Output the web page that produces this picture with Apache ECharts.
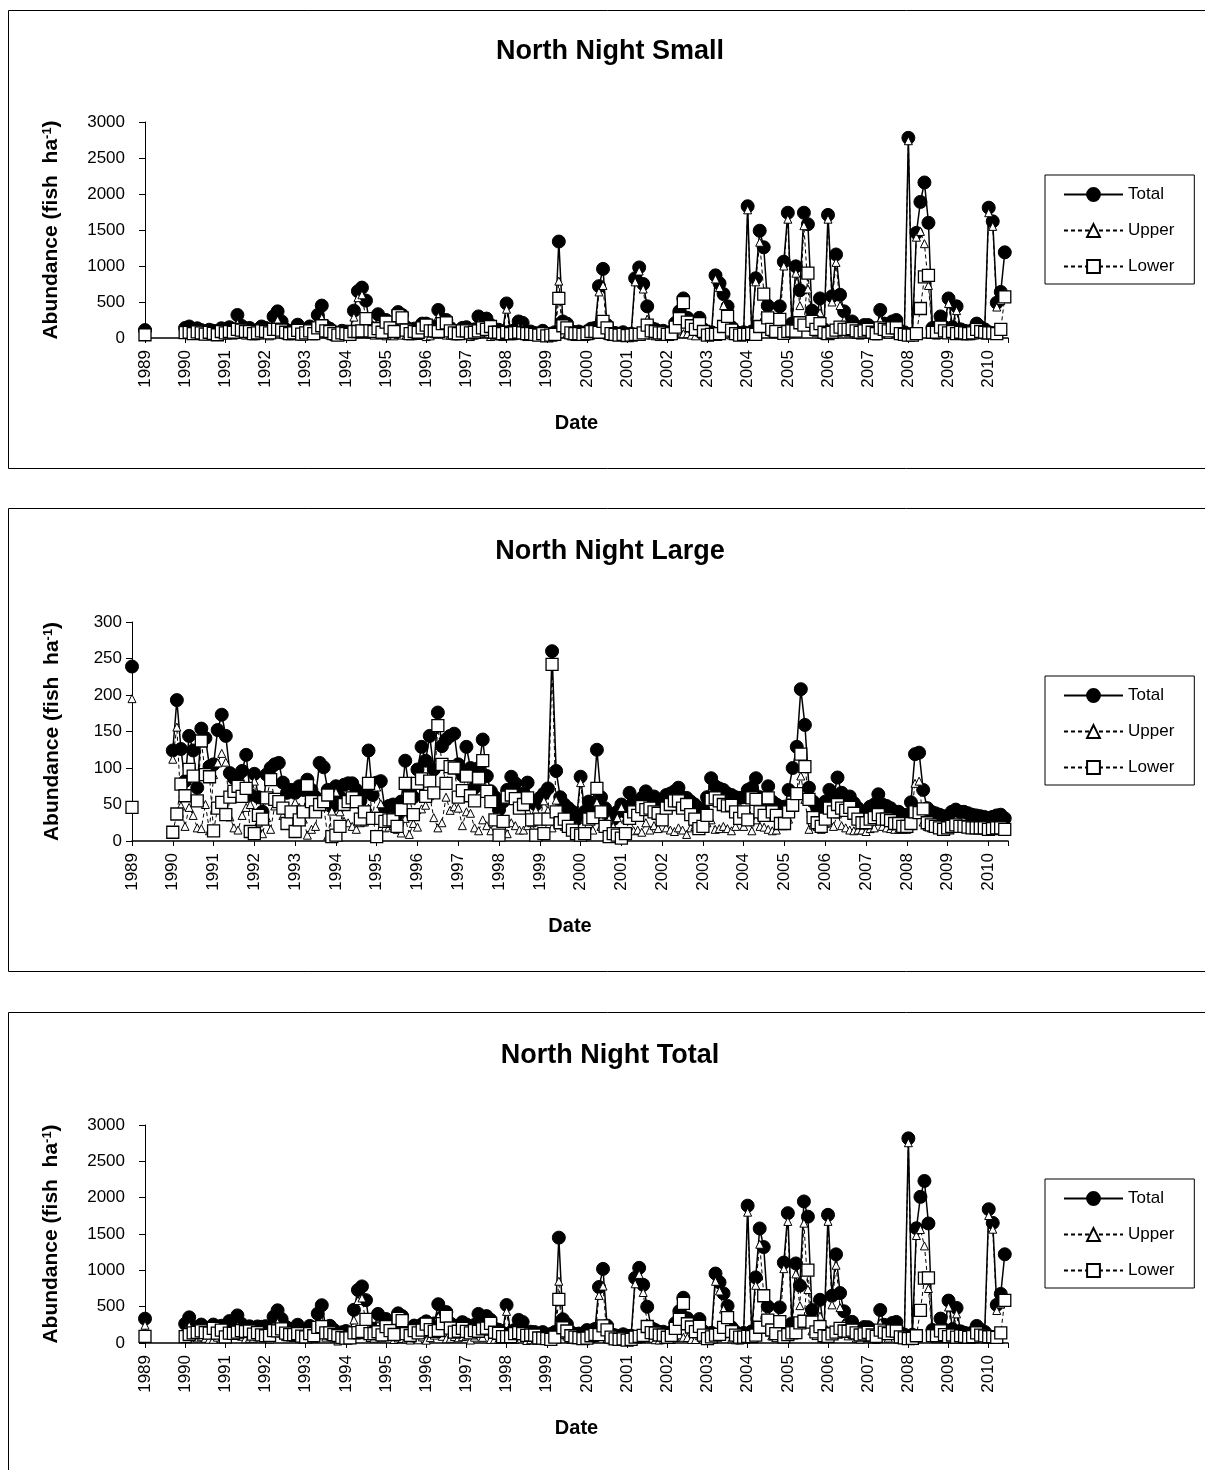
<!DOCTYPE html>
<html><head><meta charset="utf-8">
<script src="https://cdn.jsdelivr.net/npm/echarts@6/dist/echarts.min.js"></script>
<style>html,body{margin:0;padding:0;background:#fff}#c{width:1205px;height:1470px}</style>
</head><body><div id="c"></div>
<script>
// ---------- DATA ----------
const panelTitles = ['North Night Small', 'North Night Large', 'North Night Total'];
const seriesNames = ['Total', 'Upper', 'Lower'];
const yearLabels = [1989,1990,1991,1992,1993,1994,1995,1996,1997,1998,1999,2000,2001,2002,2003,2004,2005,2006,2007,2008,2009,2010];
const yTicksSmall = [0,500,1000,1500,2000,2500,3000];
const yTicksLarge = [0,50,100,150,200,250,300];
const yTicksTotal = [0,500,1000,1500,2000,2500,3000];

// sampling dates (decimal years); 1989.5 = no sampling (gap)
const dates = [1989,1989.5,
1990,1990.1,1990.2,1990.3,1990.4,1990.5,1990.6,1990.7,1990.8,1990.9,
1991,1991.1,1991.2,1991.3,1991.4,1991.5,1991.6,1991.7,1991.8,1991.9,
1992,1992.1,1992.2,1992.3,1992.4,1992.5,1992.6,1992.7,1992.8,1992.9,
1993,1993.1,1993.2,1993.3,1993.4,1993.5,1993.6,1993.7,1993.8,1993.9,
1994,1994.1,1994.2,1994.3,1994.4,1994.5,1994.6,1994.7,1994.8,1994.9,
1995,1995.1,1995.2,1995.3,1995.4,1995.5,1995.6,1995.7,1995.8,1995.9,
1996,1996.1,1996.2,1996.3,1996.4,1996.5,1996.6,1996.7,1996.8,1996.9,
1997,1997.1,1997.2,1997.3,1997.4,1997.5,1997.6,1997.7,1997.8,1997.9,
1998,1998.1,1998.2,1998.3,1998.4,1998.5,1998.6,1998.7,1998.8,1998.9,
1999,1999.1,1999.2,1999.3,1999.4,1999.5,1999.6,1999.7,1999.8,1999.9,
2000,2000.1,2000.2,2000.3,2000.4,2000.5,2000.6,2000.7,2000.8,2000.9,
2001,2001.1,2001.2,2001.3,2001.4,2001.5,2001.6,2001.7,2001.8,2001.9,
2002,2002.1,2002.2,2002.3,2002.4,2002.5,2002.6,2002.7,2002.8,2002.9,
2003,2003.1,2003.2,2003.3,2003.4,2003.5,2003.6,2003.7,2003.8,2003.9,
2004,2004.1,2004.2,2004.3,2004.4,2004.5,2004.6,2004.7,2004.8,2004.9,
2005,2005.1,2005.2,2005.3,2005.4,2005.5,2005.6,2005.7,2005.8,2005.9,
2006,2006.1,2006.2,2006.3,2006.4,2006.5,2006.6,2006.7,2006.8,2006.9,
2007,2007.1,2007.2,2007.3,2007.4,2007.5,2007.6,2007.7,2007.8,2007.9,
2008,2008.1,2008.2,2008.3,2008.4,2008.5,2008.6,2008.7,2008.8,2008.9,
2009,2009.1,2009.2,2009.3,2009.4,2009.5,2009.6,2009.7,2009.8,2009.9,
2010,2010.1,2010.2,2010.3,2010.4];

// North Night Small
const smallTotal = [110,null,
140,160,95,135,110,85,115,100,75,135,
110,150,120,320,170,130,140,90,110,160,
140,100,300,370,230,120,90,110,185,80,
110,160,90,320,450,160,130,80,60,100,
90,70,380,650,700,520,150,130,330,120,
250,180,120,360,320,150,90,130,115,200,
200,130,160,390,260,250,140,100,90,140,
150,90,120,300,200,270,180,110,115,80,
480,90,110,230,210,80,90,70,60,100,
45,60,80,1340,230,200,100,80,90,70,
90,130,140,720,960,180,80,70,60,80,
50,60,830,980,750,440,140,120,90,100,
70,90,210,370,550,280,210,150,280,120,
60,80,870,760,610,440,150,90,60,80,
1830,90,830,1490,1260,450,200,150,440,1060,
1740,200,995,662,1740,1580,380,200,550,120,
1710,580,1160,600,370,200,230,150,120,180,
180,120,90,390,200,150,230,250,100,80,
2780,60,1460,1890,2160,1600,140,120,300,150,
550,150,440,120,100,90,110,200,150,120,
1810,1620,490,640,1190];
const smallUpper = [65,null,
65,80,35,50,40,30,35,35,30,45,
40,60,40,200,60,40,50,30,40,60,
50,30,180,250,120,40,30,40,80,25,
40,60,30,180,280,60,40,20,20,30,
30,20,290,560,600,250,50,40,200,40,
30,40,30,50,40,40,30,40,35,60,
20,30,60,300,60,40,40,30,30,40,
50,20,40,200,60,150,20,30,35,20,
400,30,40,150,140,20,30,20,20,40,
15,20,30,790,60,60,30,20,30,20,
30,40,50,640,730,40,20,20,20,30,
15,20,780,930,680,260,40,30,20,30,
20,30,60,100,60,60,40,30,80,30,
20,30,820,700,450,140,40,30,20,30,
1780,30,780,1330,650,170,80,60,180,1000,
1650,100,900,450,1560,680,150,80,350,40,
1650,500,1050,450,250,80,100,50,40,80,
60,40,30,250,80,50,90,110,40,30,
2740,20,1400,1480,1310,730,60,40,150,50,
480,60,380,40,30,30,40,80,60,40,
1740,1550,430,520,620];
const smallLower = [45,null,
75,80,60,85,70,55,80,65,45,90,
70,90,80,120,110,90,90,60,70,100,
90,70,120,120,110,80,60,70,105,55,
70,100,60,140,170,100,90,60,40,70,
60,50,90,90,100,270,100,90,130,80,
220,140,90,310,280,110,60,90,80,140,
180,100,100,90,200,210,100,70,60,100,
100,70,80,100,140,120,160,80,80,60,
80,60,70,80,70,60,60,50,40,60,
30,40,50,550,170,140,70,60,60,50,
60,90,90,80,230,140,60,50,40,50,
35,40,50,50,70,180,100,90,70,70,
50,60,150,270,490,220,170,120,200,90,
40,50,50,60,160,300,110,60,40,50,
50,60,50,160,610,280,120,90,260,65,
90,100,95,212,180,900,230,120,200,80,
60,80,110,150,120,120,130,100,80,100,
120,80,60,140,120,100,140,140,60,50,
40,40,60,410,850,870,80,80,150,100,
70,90,60,80,70,60,70,120,90,80,
70,70,60,120,570];

// North Night Large
const largeTotal = [239,null,
124,193,126,82,144,124,73,154,141,102,
105,152,173,144,93,86,90,96,118,63,
92,60,40,91,100,105,107,80,66,70,
66,75,70,84,70,60,107,101,70,47,
75,60,77,79,79,70,55,66,124,63,
80,82,45,48,50,36,54,110,68,60,
98,129,110,144,98,176,130,139,144,147,
105,90,129,100,73,100,139,89,68,60,
43,54,70,88,79,60,65,80,54,50,
59,65,72,260,96,60,50,45,40,30,
88,40,54,47,125,60,45,36,30,40,
50,40,66,54,50,59,68,60,61,55,
57,63,65,68,73,60,59,54,50,40,
45,60,86,75,72,70,65,63,60,59,
60,70,73,86,60,54,75,54,50,47,
47,70,100,129,208,159,73,54,45,36,
54,70,60,87,66,60,61,52,45,40,
38,47,50,64,50,48,45,40,40,36,
36,53,119,121,70,45,40,38,36,34,
34,40,43,40,40,38,36,35,34,33,
31,33,35,36,31];
const largeUpper = [195,null,
112,156,48,20,46,35,18,17,50,14,
91,107,120,108,33,18,15,35,46,50,
82,25,10,32,16,48,53,35,42,30,
53,46,30,8,16,20,57,47,7,41,
67,40,27,25,20,16,25,26,45,32,
74,51,18,19,21,16,11,31,9,24,
19,44,49,62,32,18,25,60,42,47,
45,21,40,38,18,14,29,21,14,31,
35,27,10,25,21,15,15,21,25,42,
29,55,42,18,56,35,20,25,25,20,
80,30,24,15,53,20,25,30,20,32,
46,30,35,14,15,12,25,15,21,17,
28,18,15,13,18,15,9,18,20,23,
25,25,29,16,17,20,17,14,20,28,
20,41,14,29,20,19,16,14,15,23,
23,30,51,64,89,57,16,22,20,16,
24,25,20,37,21,18,15,14,15,15,
13,17,18,28,20,18,17,16,16,16,
16,29,79,82,26,20,18,18,18,18,
16,20,21,20,20,19,18,17,16,15,
15,16,17,18,15];
const largeLower = [46,null,
12,37,78,62,98,89,55,137,91,88,
14,45,53,36,60,68,75,61,72,13,
10,35,30,59,84,57,54,45,24,40,
13,29,40,76,54,40,50,54,63,6,
8,20,50,54,59,54,30,40,79,31,
6,31,27,29,29,20,43,79,59,36,
79,85,61,82,66,158,105,79,102,100,
60,69,89,62,55,86,110,68,54,29,
8,27,60,63,58,45,50,59,29,8,
30,10,30,242,40,25,30,20,15,10,
8,10,30,32,72,40,20,6,10,8,
4,10,31,40,35,47,43,45,40,38,
29,45,50,55,55,45,50,36,30,17,
20,35,57,59,55,50,48,49,40,31,
40,29,59,57,40,35,59,40,35,24,
24,40,49,65,119,102,57,32,25,20,
30,45,40,50,45,42,46,38,30,25,
25,30,32,36,30,30,28,24,24,20,
20,24,40,39,44,25,22,20,18,16,
18,20,22,20,20,19,18,18,18,18,
16,17,18,18,16];

// North Night Total
const allTotal = [335,null,
264,353,221,217,254,209,188,254,216,237,
215,302,293,380,263,216,230,186,228,223,
232,160,360,450,330,225,197,190,251,150,
176,235,160,404,520,220,237,181,130,147,
165,130,457,729,779,590,205,196,400,183,
330,262,165,408,370,186,144,240,183,260,
298,259,270,534,358,426,270,239,234,287,
255,180,249,400,273,370,319,199,183,140,
523,144,180,318,289,140,155,150,114,150,
104,125,152,1450,326,260,150,125,130,100,
178,170,194,770,1020,240,125,106,90,120,
100,100,896,1034,800,499,208,180,151,155,
127,153,275,438,623,340,269,204,330,160,
105,140,956,835,682,510,215,153,120,139,
1890,160,903,1576,1320,504,275,204,490,1107,
1787,270,1095,791,1948,1739,453,254,595,156,
1764,650,1220,687,436,260,291,202,165,220,
218,167,140,454,250,198,275,290,140,116,
2816,113,1579,2011,2230,1645,180,158,336,184,
584,190,483,160,140,128,146,235,184,153,
1841,1653,525,676,1221];
const allUpper = [245,null,
177,236,83,70,86,65,53,52,80,59,
131,167,160,230,93,58,65,65,86,110,
132,55,190,282,136,88,83,75,122,55,
93,106,60,188,296,80,97,67,27,71,
97,60,317,585,620,266,75,66,245,72,
104,91,48,69,61,56,41,71,44,84,
39,74,109,362,92,58,65,90,72,87,
95,41,80,238,78,164,49,51,49,51,
435,57,50,175,161,35,45,41,45,82,
44,75,72,850,116,95,50,45,55,40,
110,70,74,655,783,60,45,50,40,62,
61,50,815,944,695,272,65,45,41,47,
48,48,75,113,78,75,49,48,100,53,
45,55,849,716,467,160,57,44,40,58,
1800,71,794,1359,670,189,96,74,195,1023,
1673,130,951,514,1649,737,166,102,370,56,
1674,525,1070,487,271,98,115,64,55,95,
73,57,48,278,100,68,107,126,56,46,
2756,49,1479,1562,1336,750,78,58,168,68,
496,80,401,60,50,49,58,97,76,55,
1755,1566,447,538,635];
const allLower = [90,null,
87,117,138,147,168,144,135,202,136,178,
84,135,133,150,170,158,165,121,142,113,
100,105,170,168,194,137,114,115,129,95,
83,129,100,216,224,140,140,114,103,76,
68,70,140,144,159,324,130,130,155,111,
226,171,117,339,309,130,103,169,139,176,
259,185,161,172,266,368,205,149,162,200,
160,139,169,162,195,206,270,148,134,89,
88,87,130,143,128,105,110,109,69,68,
60,50,80,600,210,165,100,80,75,60,
68,100,120,115,237,180,80,56,50,58,
39,50,81,90,105,227,143,135,110,108,
79,105,200,325,545,265,220,156,230,107,
60,85,107,119,215,350,158,109,80,81,
90,89,109,217,650,315,179,130,295,84,
114,140,144,277,299,1002,287,152,225,100,
90,125,150,200,165,162,176,138,110,125,
145,110,92,176,150,130,168,164,84,70,
60,64,100,449,894,895,102,100,168,116,
88,110,82,100,90,79,88,138,108,98,
86,87,78,138,586];

// ---------- CHART ----------
const FONT = 'Liberation Sans';
const panels = [
  {title: panelTitles[0], ticks: yTicksSmall, vals: [smallTotal, smallUpper, smallLower],
   grid: {left: 145, top: 122, width: 863, height: 216}, labelMargin: 20, nameGap: 83, titleTop: 33, legendTop: 175, box: [8.5, 10.5, 458]},
  {title: panelTitles[1], ticks: yTicksLarge, vals: [largeTotal, largeUpper, largeLower],
   grid: {left: 132, top: 622, width: 876, height: 219}, labelMargin: 10, nameGap: 69, titleTop: 533, legendTop: 676, box: [8.5, 508.5, 463]},
  {title: panelTitles[2], ticks: yTicksTotal, vals: [allTotal, allUpper, allLower],
   grid: {left: 145, top: 1125, width: 863, height: 218}, labelMargin: 20, nameGap: 83, titleTop: 1037, legendTop: 1179, box: [8.5, 1012.5, 520]}
];

const styles = [
  {symbol: 'circle', symbolSize: 13, itemStyle: {color: '#000', borderColor: '#000', borderWidth: 1}, lineStyle: {color: '#000', width: 1.5, type: 'solid'}},
  {symbol: 'triangle', symbolSize: 8, itemStyle: {color: '#fff', borderColor: '#000', borderWidth: 1}, lineStyle: {color: '#000', width: 1, type: [4, 3]}},
  {symbol: 'rect', symbolSize: 12, itemStyle: {color: '#fff', borderColor: '#000', borderWidth: 1.3}, lineStyle: {color: '#000', width: 1, type: [4, 3]}}
];

const grids = [], xAxes = [], yAxes = [], series = [], titles = [], legends = [], graphics = [];
panels.forEach((p, gi) => {
  grids.push(Object.assign({containLabel: false}, p.grid));
  xAxes.push({
    gridIndex: gi, type: 'value', min: yearLabels[0], max: 2010.48, interval: 1,
    axisLine: {onZero: false, lineStyle: {color: '#000', width: 1.5}},
    axisTick: {show: true, length: 5, lineStyle: {color: '#000', width: 1}},
    axisLabel: {rotate: 90, fontSize: 17, color: '#000', fontFamily: FONT, margin: 12,
      formatter: v => yearLabels.indexOf(v) >= 0 ? String(v) : ''},
    splitLine: {show: false},
    name: 'Date', nameLocation: 'middle', nameGap: 75,
    nameTextStyle: {fontSize: 20, fontWeight: 'bold', color: '#000', fontFamily: FONT}
  });
  yAxes.push({
    gridIndex: gi, type: 'value', min: p.ticks[0], max: p.ticks[p.ticks.length - 1], interval: p.ticks[1] - p.ticks[0],
    axisLine: {show: true, lineStyle: {color: '#000', width: 1}},
    axisTick: {show: true, length: 6, lineStyle: {color: '#000', width: 1}},
    axisLabel: {fontSize: 17, color: '#000', fontFamily: FONT, margin: p.labelMargin, formatter: v => String(v)},
    splitLine: {show: false},
    name: 'Abundance (fish  ha{sup|-1})', nameLocation: 'middle', nameGap: p.nameGap, nameRotate: 90,
    nameTextStyle: {fontSize: 21, fontWeight: 'bold', color: '#000', fontFamily: FONT,
      rich: {sup: {fontSize: 13, fontWeight: 'bold', color: '#000', fontFamily: FONT, verticalAlign: 'top', lineHeight: 13}}}
  });
  seriesNames.forEach((nm, si) => {
    const st = styles[si];
    series.push({
      type: 'line', name: nm, xAxisIndex: gi, yAxisIndex: gi,
      data: dates.map((d, i) => [d, p.vals[si][i]]),
      symbol: st.symbol, symbolSize: st.symbolSize, showSymbol: true, connectNulls: false,
      itemStyle: st.itemStyle, lineStyle: st.lineStyle,
      emphasis: {disabled: true}, silent: true, clip: false
    });
  });
  titles.push({text: p.title, left: 605, top: p.titleTop, textAlign: 'center',
    textStyle: {fontSize: 27, fontWeight: 'bold', color: '#000', fontFamily: FONT}});
  legends.push({
    data: seriesNames, orient: 'vertical', left: 1045, top: p.legendTop,
    itemWidth: 59, itemHeight: 16, itemGap: 19,
    padding: [11, 20, 9, 18], borderColor: '#000', borderWidth: 1,
    textStyle: {fontSize: 17, color: '#000', fontFamily: FONT},
    selectedMode: false
  });
  graphics.push({type: 'rect', silent: true, z: -10,
    shape: {x: p.box[0], y: p.box[1], width: 1300, height: p.box[2]},
    style: {fill: 'none', stroke: '#000', lineWidth: 1}});
});

const chart = echarts.init(document.getElementById('c'), null, {renderer: 'canvas'});
chart.setOption({
  animation: false,
  backgroundColor: '#fff',
  textStyle: {fontFamily: FONT},
  title: titles, legend: legends, grid: grids, xAxis: xAxes, yAxis: yAxes,
  series: series, graphic: graphics
});
</script></body></html>
